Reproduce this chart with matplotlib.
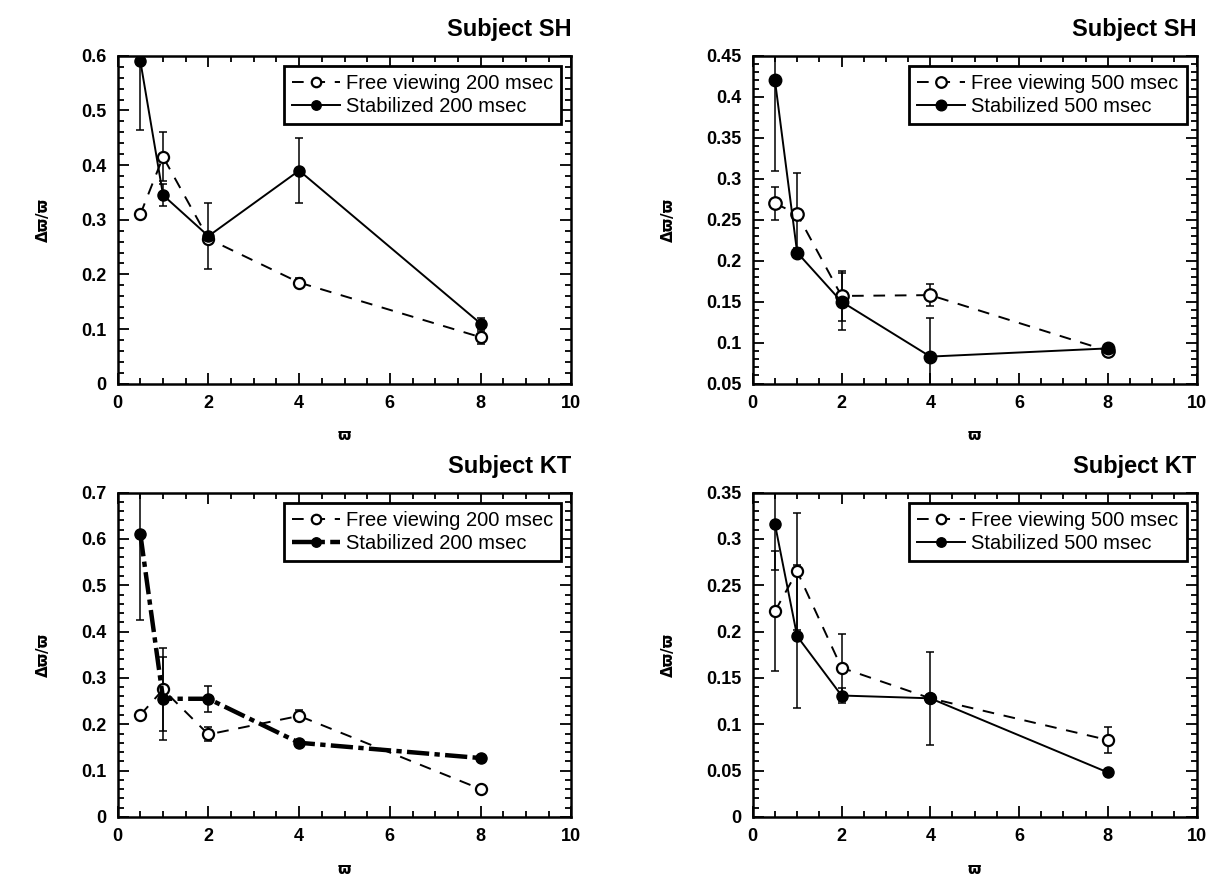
import numpy as np
import matplotlib
matplotlib.use('Agg')
import matplotlib.pyplot as plt
from matplotlib.ticker import MultipleLocator, FuncFormatter

plt.rcParams['font.family'] = ['Liberation Sans', 'DejaVu Sans']

# spatial frequency values (same for every panel)
freq = [0.5, 1, 2, 4, 8]

# Subject SH, 200 msec
sh200_free = [0.31, 0.415, 0.265, 0.185, 0.085]
sh200_free_err = [0.0, 0.045, 0.0, 0.008, 0.012]
sh200_stab = [0.59, 0.345, 0.27, 0.39, 0.11]
sh200_stab_err = [0.125, 0.02, 0.06, 0.06, 0.01]

# Subject SH, 500 msec
sh500_free = [0.27, 0.257, 0.157, 0.158, 0.09]
sh500_free_err = [0.02, 0.05, 0.03, 0.013, 0.004]
sh500_stab = [0.42, 0.21, 0.15, 0.083, 0.093]
sh500_stab_err = [0.11, 0.005, 0.035, 0.047, 0.003]

# Subject KT, 200 msec
kt200_free = [0.22, 0.275, 0.178, 0.218, 0.06]
kt200_free_err = [0.0, 0.09, 0.015, 0.012, 0.0]
kt200_stab = [0.61, 0.255, 0.255, 0.16, 0.127]
kt200_stab_err = [0.185, 0.09, 0.028, 0.005, 0.004]

# Subject KT, 500 msec
kt500_free = [0.222, 0.265, 0.161, 0.128, 0.083]
kt500_free_err = [0.065, 0.063, 0.036, 0.05, 0.014]
kt500_stab = [0.316, 0.195, 0.131, 0.128, 0.048]
kt500_stab_err = [0.05, 0.077, 0.008, 0.0, 0.003]

panels = [
    # (free, free_err, stab, stab_err, duration, subject, ylim, ymajor, yminor, thick)
    (sh200_free, sh200_free_err, sh200_stab, sh200_stab_err, 200, 'SH', (0, 0.6), 0.1, 0.02, False),
    (sh500_free, sh500_free_err, sh500_stab, sh500_stab_err, 500, 'SH', (0.05, 0.45), 0.05, 0.01, False),
    (kt200_free, kt200_free_err, kt200_stab, kt200_stab_err, 200, 'KT', (0, 0.7), 0.1, 0.02, True),
    (kt500_free, kt500_free_err, kt500_stab, kt500_stab_err, 500, 'KT', (0, 0.35), 0.05, 0.01, False),
]

# axes rectangles in figure coordinates
rects = [
    [0.096, 0.567, 0.370, 0.370],
    [0.614, 0.567, 0.362, 0.370],
    [0.096, 0.078, 0.370, 0.366],
    [0.614, 0.078, 0.362, 0.366],
]

fig = plt.figure(figsize=(12.26, 8.86), dpi=100)

for (free, free_err, stab, stab_err, dur, subj, ylim, ymaj, ymin, thick), rect in zip(panels, rects):
    ax = fig.add_axes(rect)
    ms = 9 if dur == 500 and subj == 'SH' else 8

    # error bars first, without line, so they stay out of the legend
    ax.errorbar(freq, free, yerr=free_err, fmt='none', ecolor='black',
                capsize=3, elinewidth=1.1, capthick=1.1, zorder=2)
    ax.errorbar(freq, stab, yerr=stab_err, fmt='none', ecolor='black',
                capsize=3, elinewidth=1.1, capthick=1.1, zorder=2)

    # free viewing: open circles, dashed line
    ax.plot(freq, free, color='black', ls=(0, (6, 5)), lw=1.4,
            marker='o', ms=ms, mfc='white', mec='black', mew=1.6,
            label='Free viewing %d msec' % dur, zorder=3)

    # stabilized: filled circles, solid (thick dash-dot for KT 200)
    if thick:
        ls, lw = (0, (5, 1.2, 1.2, 1.2)), 3.2
    else:
        ls, lw = '-', 1.4
    ax.plot(freq, stab, color='black', ls=ls, lw=lw,
            marker='o', ms=ms, mfc='black', mec='black',
            label='Stabilized %d msec' % dur, zorder=4)

    ax.set_xlim(0, 10)
    ax.set_ylim(*ylim)
    ax.xaxis.set_major_locator(MultipleLocator(2))
    ax.xaxis.set_minor_locator(MultipleLocator(0.5))
    ax.yaxis.set_major_locator(MultipleLocator(ymaj))
    ax.yaxis.set_minor_locator(MultipleLocator(ymin))
    ax.yaxis.set_major_formatter(FuncFormatter(lambda v, p: '%g' % round(v, 3)))
    ax.tick_params(which='both', direction='in', top=True, right=True, width=1.3)
    ax.tick_params(which='major', length=8, labelsize=13, pad=8)
    ax.tick_params(which='minor', length=4)
    for lab in ax.get_xticklabels() + ax.get_yticklabels():
        lab.set_fontweight('bold')
    for sp in ax.spines.values():
        sp.set_linewidth(1.8)

    ax.set_xlabel('ϖ', fontsize=11, fontweight='bold', labelpad=12, family=['DejaVu Sans'])
    ax.set_ylabel('Δϖ/ϖ', fontsize=11, fontweight='bold', labelpad=22, family=['DejaVu Sans'])
    ax.set_title('Subject %s' % subj, loc='right', fontsize=17, fontweight='bold', pad=14)

    leg = ax.legend(loc='upper right', fontsize=14.5, fancybox=False, framealpha=1,
                    edgecolor='black', borderpad=0.4, handlelength=2.4,
                    handletextpad=0.3, labelspacing=0.2, markerscale=0.85)
    leg.get_frame().set_linewidth(2)

fig.savefig('out.png', dpi=100)
